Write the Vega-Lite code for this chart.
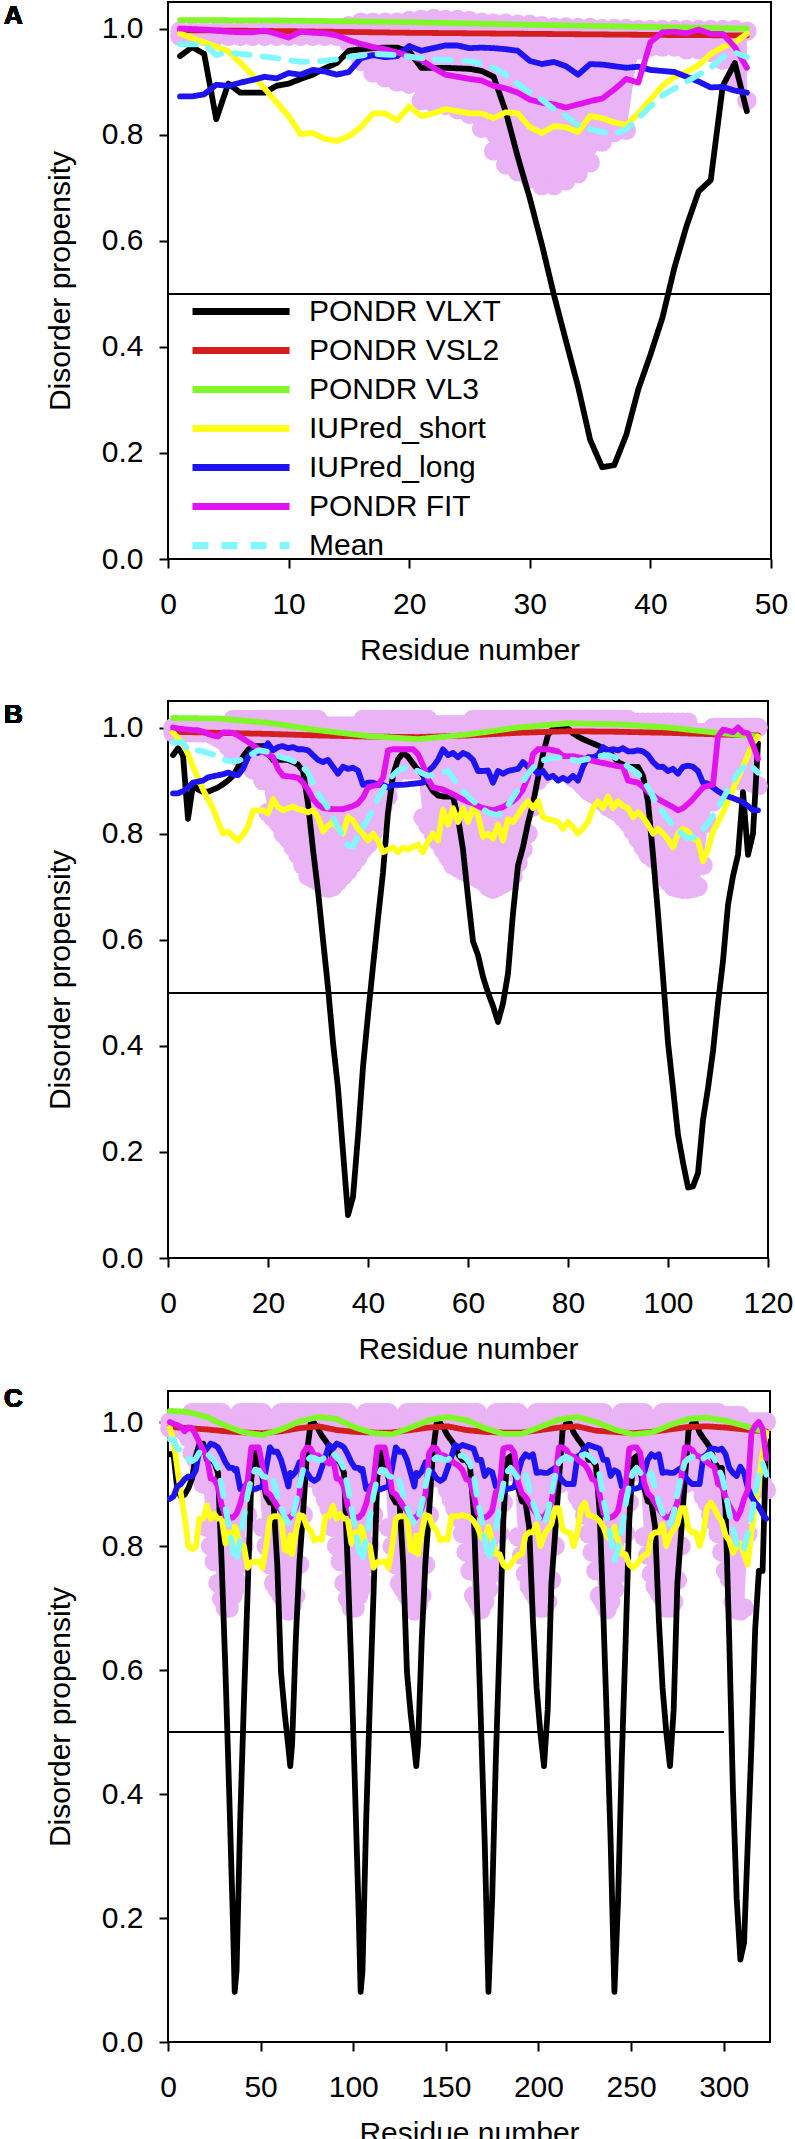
{
"$schema":"https://vega.github.io/schema/vega-lite/v6.json",
"padding":{"left":2,"top":1,"right":0,"bottom":0},
"background":"white",
"config":{
"view":{"stroke":"black","strokeWidth":2},
"axis":{"labelFont":"Liberation Sans","titleFont":"Liberation Sans","labelFontSize":30,"titleFontSize":30,"titleFontWeight":"normal","labelColor":"black","titleColor":"black","tickColor":"black","tickWidth":2,"tickSize":9,"domain":false,"grid":false,"labelFlush":false},
"axisX":{"labelPadding":21,"titlePadding":16},
"axisY":{"labelPadding":16,"titlePadding":26},
"legend":{"orient":"none","legendX":21,"legendY":291,"title":null,"labelFontSize":30,"labelFont":"Liberation Sans","labelColor":"black","labelLimit":0,"symbolType":"M-1,0H5.47","symbolSize":900,"symbolStrokeWidth":7,"labelOffset":83,"rowPadding":5,"padding":0}
},
"datasets":{
"A":[
{"res":1,"VLXT":0.948,"VSL2":0.997,"VL3":1.016,"short":0.991,"long":0.872,"FIT":1,"Mean":0.97,"lo":0.985,"hi":0.995},
{"res":2,"VLXT":0.965,"short":0.982,"long":0.872,"FIT":0.999,"Mean":0.97,"lo":0.985,"hi":0.995},
{"res":3,"VLXT":0.952,"short":0.974,"long":0.876,"FIT":0.998,"Mean":0.97,"lo":0.985,"hi":0.995},
{"res":4,"VLXT":0.829,"short":0.966,"long":0.894,"FIT":0.996,"Mean":0.95,"lo":0.985,"hi":0.995},
{"res":5,"VLXT":0.896,"short":0.957,"long":0.892,"FIT":0.994,"Mean":0.955,"lo":0.985,"hi":0.995},
{"res":6,"VLXT":0.879,"short":0.935,"long":0.898,"FIT":0.993,"Mean":0.952,"lo":0.985,"hi":0.995},
{"res":7,"VLXT":0.879,"short":0.913,"long":0.903,"FIT":0.993,"Mean":0.95,"lo":0.985,"hi":0.995},
{"res":8,"VLXT":0.879,"short":0.887,"long":0.909,"FIT":0.996,"Mean":0.947,"lo":0.985,"hi":0.995},
{"res":9,"VLXT":0.892,"short":0.861,"long":0.906,"FIT":0.99,"Mean":0.944,"lo":0.985,"hi":0.995},
{"res":10,"VLXT":0.896,"VSL2":0.995,"VL3":1.015,"short":0.835,"long":0.916,"FIT":0.983,"Mean":0.94,"lo":0.985,"hi":0.995},
{"res":11,"VLXT":0.905,"short":0.801,"long":0.913,"FIT":0.994,"Mean":0.937,"lo":0.985,"hi":0.995},
{"res":12,"VLXT":0.913,"short":0.803,"long":0.922,"FIT":0.992,"Mean":0.938,"lo":0.985,"hi":0.995},
{"res":13,"VLXT":0.925,"short":0.792,"long":0.919,"FIT":0.991,"Mean":0.939,"lo":0.985,"hi":0.995},
{"res":14,"VLXT":0.935,"short":0.788,"long":0.913,"FIT":0.987,"Mean":0.942,"lo":0.985,"hi":0.995},
{"res":15,"VLXT":0.958,"short":0.797,"long":0.918,"FIT":0.978,"Mean":0.946,"lo":0.972,"hi":1.005},
{"res":16,"VLXT":0.961,"short":0.814,"long":0.944,"FIT":0.971,"Mean":0.949,"lo":0.938,"hi":1.012},
{"res":17,"VLXT":0.963,"short":0.84,"long":0.95,"FIT":0.965,"Mean":0.952,"lo":0.916,"hi":1.012},
{"res":18,"VLXT":0.964,"short":0.84,"long":0.946,"FIT":0.961,"Mean":0.951,"lo":0.907,"hi":1.012},
{"res":19,"VLXT":0.964,"short":0.827,"long":0.948,"FIT":0.955,"Mean":0.95,"lo":0.899,"hi":1.012},
{"res":20,"VLXT":0.957,"VSL2":0.992,"VL3":1.012,"short":0.853,"long":0.967,"FIT":0.948,"Mean":0.947,"lo":0.895,"hi":1.015},
{"res":21,"VLXT":0.926,"short":0.835,"long":0.958,"FIT":0.941,"Mean":0.944,"lo":0.864,"hi":1.017},
{"res":22,"VLXT":0.926,"short":0.84,"long":0.963,"FIT":0.926,"Mean":0.942,"lo":0.86,"hi":1.019},
{"res":23,"VLXT":0.926,"short":0.848,"long":0.968,"FIT":0.913,"Mean":0.941,"lo":0.855,"hi":1.017},
{"res":24,"VLXT":0.925,"short":0.844,"long":0.968,"FIT":0.909,"Mean":0.94,"lo":0.847,"hi":1.017},
{"res":25,"VLXT":0.924,"short":0.84,"long":0.963,"FIT":0.905,"Mean":0.939,"lo":0.838,"hi":1.015},
{"res":26,"VLXT":0.92,"short":0.84,"long":0.964,"FIT":0.902,"Mean":0.933,"lo":0.812,"hi":1.012},
{"res":27,"VLXT":0.909,"short":0.831,"long":0.963,"FIT":0.892,"Mean":0.926,"lo":0.769,"hi":1.01},
{"res":28,"VLXT":0.844,"short":0.842,"long":0.961,"FIT":0.887,"Mean":0.913,"lo":0.743,"hi":1.01},
{"res":29,"VLXT":0.758,"short":0.84,"long":0.958,"FIT":0.879,"Mean":0.896,"lo":0.73,"hi":1.008},
{"res":30,"VLXT":0.68,"VSL2":0.99,"VL3":1.007,"short":0.814,"long":0.939,"FIT":0.866,"Mean":0.879,"lo":0.717,"hi":1.008},
{"res":31,"VLXT":0.593,"short":0.803,"long":0.933,"FIT":0.86,"Mean":0.866,"lo":0.704,"hi":1.005},
{"res":32,"VLXT":0.498,"short":0.816,"long":0.937,"FIT":0.857,"Mean":0.848,"lo":0.704,"hi":1.003},
{"res":33,"VLXT":0.411,"short":0.814,"long":0.929,"FIT":0.851,"Mean":0.835,"lo":0.713,"hi":1.003},
{"res":34,"VLXT":0.325,"short":0.805,"long":0.913,"FIT":0.857,"Mean":0.818,"lo":0.726,"hi":1.002},
{"res":35,"VLXT":0.225,"short":0.835,"long":0.933,"FIT":0.863,"Mean":0.81,"lo":0.747,"hi":1.002},
{"res":36,"VLXT":0.173,"short":0.831,"long":0.932,"FIT":0.868,"Mean":0.805,"lo":0.786,"hi":1},
{"res":37,"VLXT":0.177,"short":0.823,"long":0.929,"FIT":0.885,"Mean":0.801,"lo":0.804,"hi":1},
{"res":38,"VLXT":0.234,"short":0.818,"long":0.926,"FIT":0.905,"Mean":0.81,"lo":0.808,"hi":1},
{"res":39,"VLXT":0.32,"short":0.84,"long":0.928,"FIT":0.898,"Mean":0.831,"lo":0.96,"hi":0.998},
{"res":40,"VLXT":0.385,"VSL2":0.988,"VL3":1.003,"short":0.866,"long":0.922,"FIT":0.974,"Mean":0.853,"lo":0.965,"hi":0.998},
{"res":41,"VLXT":0.455,"short":0.892,"long":0.92,"FIT":0.993,"Mean":0.874,"lo":0.965,"hi":0.998},
{"res":42,"VLXT":0.55,"short":0.909,"long":0.918,"FIT":0.994,"Mean":0.887,"lo":0.965,"hi":0.998},
{"res":43,"VLXT":0.628,"short":0.918,"long":0.909,"FIT":0.991,"Mean":0.9,"lo":0.96,"hi":0.998},
{"res":44,"VLXT":0.693,"short":0.931,"long":0.9,"FIT":0.998,"Mean":0.913,"lo":0.96,"hi":0.998},
{"res":45,"VLXT":0.714,"short":0.952,"long":0.889,"FIT":0.99,"Mean":0.926,"lo":0.955,"hi":0.998},
{"res":46,"VLXT":0.892,"short":0.965,"long":0.89,"FIT":0.99,"Mean":0.946,"lo":0.94,"hi":0.998},
{"res":47,"VLXT":0.935,"short":0.974,"long":0.883,"FIT":0.965,"Mean":0.955,"lo":0.9,"hi":0.998},
{"res":48,"VLXT":0.844,"VSL2":0.987,"VL3":1,"short":0.99,"long":0.879,"FIT":0.926,"Mean":0.946,"lo":0.864,"hi":0.995}
],
"B":[
{"res":1,"VLXT":0.948,"VSL2":0.992,"VL3":1.018,"short":0.991,"long":0.876,"FIT":1,"Mean":0.972,"lo":0.99,"hi":1},
{"res":2,"VLXT":0.961,"short":0.98,"long":0.876,"FIT":0.998,"Mean":0.972,"lo":0.99,"hi":1},
{"res":3,"VLXT":0.948,"short":0.97,"long":0.88,"FIT":0.997,"Mean":0.972,"lo":0.99,"hi":1},
{"res":4,"VLXT":0.828,"short":0.95,"long":0.887,"FIT":0.996,"Mean":0.957,"lo":0.99,"hi":1},
{"res":5,"VLXT":0.892,"short":0.926,"long":0.896,"FIT":0.995,"Mean":0.957,"lo":0.99,"hi":1},
{"res":6,"VLXT":0.883,"short":0.905,"long":0.898,"FIT":0.995,"Mean":0.957,"lo":0.99,"hi":1},
{"res":7,"VLXT":0.879,"short":0.883,"long":0.9,"FIT":0.992,"Mean":0.955,"lo":0.99,"hi":1},
{"res":8,"VLXT":0.879,"short":0.865,"long":0.906,"FIT":0.988,"Mean":0.952,"lo":0.99,"hi":1},
{"res":9,"VLXT":0.883,"short":0.847,"long":0.908,"FIT":0.985,"Mean":0.949,"lo":0.985,"hi":1},
{"res":10,"VLXT":0.887,"VSL2":0.99,"VL3":1.017,"short":0.823,"long":0.91,"FIT":0.983,"Mean":0.946,"lo":0.98,"hi":1},
{"res":11,"VLXT":0.893,"short":0.8,"long":0.912,"FIT":0.991,"Mean":0.941,"lo":0.975,"hi":1},
{"res":12,"VLXT":0.9,"short":0.804,"long":0.915,"FIT":0.991,"Mean":0.937,"lo":0.965,"hi":1},
{"res":13,"VLXT":0.909,"short":0.795,"long":0.912,"FIT":0.99,"Mean":0.937,"lo":0.95,"hi":1.015},
{"res":14,"VLXT":0.925,"short":0.787,"long":0.91,"FIT":0.985,"Mean":0.937,"lo":0.945,"hi":1.015},
{"res":15,"VLXT":0.945,"short":0.798,"long":0.922,"FIT":0.979,"Mean":0.941,"lo":0.94,"hi":1.015},
{"res":16,"VLXT":0.958,"short":0.813,"long":0.944,"FIT":0.973,"Mean":0.946,"lo":0.93,"hi":1.015},
{"res":17,"VLXT":0.965,"short":0.844,"long":0.957,"FIT":0.967,"Mean":0.951,"lo":0.92,"hi":1.015},
{"res":18,"VLXT":0.965,"short":0.844,"long":0.952,"FIT":0.96,"Mean":0.957,"lo":0.92,"hi":1.015},
{"res":19,"VLXT":0.965,"short":0.844,"long":0.959,"FIT":0.954,"Mean":0.956,"lo":0.9,"hi":1.015},
{"res":20,"VLXT":0.95,"VSL2":0.988,"VL3":1.009,"short":0.838,"long":0.97,"FIT":0.949,"Mean":0.954,"lo":0.84,"hi":1.015},
{"res":21,"VLXT":0.939,"short":0.865,"long":0.957,"FIT":0.944,"Mean":0.95,"lo":0.83,"hi":1.015},
{"res":22,"VLXT":0.939,"short":0.85,"long":0.963,"FIT":0.922,"Mean":0.946,"lo":0.82,"hi":1.015},
{"res":23,"VLXT":0.939,"short":0.844,"long":0.965,"FIT":0.909,"Mean":0.943,"lo":0.8,"hi":1.015},
{"res":24,"VLXT":0.939,"short":0.848,"long":0.961,"FIT":0.908,"Mean":0.941,"lo":0.79,"hi":1.015},
{"res":25,"VLXT":0.935,"short":0.851,"long":0.963,"FIT":0.907,"Mean":0.937,"lo":0.775,"hi":1.015},
{"res":26,"VLXT":0.93,"short":0.846,"long":0.959,"FIT":0.905,"Mean":0.933,"lo":0.76,"hi":1.015},
{"res":27,"VLXT":0.918,"short":0.844,"long":0.959,"FIT":0.896,"Mean":0.925,"lo":0.74,"hi":1.015},
{"res":28,"VLXT":0.857,"short":0.84,"long":0.957,"FIT":0.883,"Mean":0.915,"lo":0.72,"hi":1.015},
{"res":29,"VLXT":0.77,"short":0.844,"long":0.948,"FIT":0.865,"Mean":0.895,"lo":0.715,"hi":1.015},
{"res":30,"VLXT":0.692,"VSL2":0.985,"VL3":0.995,"short":0.831,"long":0.939,"FIT":0.854,"Mean":0.876,"lo":0.71,"hi":1.015},
{"res":31,"VLXT":0.6,"short":0.804,"long":0.935,"FIT":0.848,"Mean":0.862,"lo":0.7,"hi":1.003},
{"res":32,"VLXT":0.51,"short":0.815,"long":0.939,"FIT":0.847,"Mean":0.848,"lo":0.697,"hi":1.003},
{"res":33,"VLXT":0.406,"short":0.822,"long":0.926,"FIT":0.846,"Mean":0.83,"lo":0.7,"hi":1.003},
{"res":34,"VLXT":0.32,"short":0.81,"long":0.913,"FIT":0.846,"Mean":0.812,"lo":0.71,"hi":1.003},
{"res":35,"VLXT":0.2,"short":0.8,"long":0.926,"FIT":0.846,"Mean":0.795,"lo":0.72,"hi":1.003},
{"res":36,"VLXT":0.081,"short":0.831,"long":0.922,"FIT":0.849,"Mean":0.777,"lo":0.73,"hi":1.003},
{"res":37,"VLXT":0.115,"short":0.825,"long":0.924,"FIT":0.852,"Mean":0.776,"lo":0.743,"hi":1.003},
{"res":38,"VLXT":0.23,"short":0.809,"long":0.919,"FIT":0.857,"Mean":0.796,"lo":0.755,"hi":1.003},
{"res":39,"VLXT":0.36,"short":0.8,"long":0.892,"FIT":0.868,"Mean":0.812,"lo":0.77,"hi":1.015},
{"res":40,"VLXT":0.458,"VSL2":0.983,"VL3":0.984,"short":0.787,"long":0.896,"FIT":0.887,"Mean":0.827,"lo":0.78,"hi":1.015},
{"res":41,"VLXT":0.55,"short":0.8,"long":0.896,"FIT":0.89,"Mean":0.847,"lo":0.8,"hi":1.015},
{"res":42,"VLXT":0.64,"short":0.787,"long":0.892,"FIT":0.892,"Mean":0.866,"lo":0.82,"hi":1.015},
{"res":43,"VLXT":0.727,"short":0.765,"long":0.892,"FIT":0.905,"Mean":0.883,"lo":0.85,"hi":1.015},
{"res":44,"VLXT":0.84,"short":0.77,"long":0.887,"FIT":0.957,"Mean":0.9,"lo":0.87,"hi":1.015},
{"res":45,"VLXT":0.91,"short":0.774,"long":0.892,"FIT":0.959,"Mean":0.91,"lo":0.9,"hi":1.015},
{"res":46,"VLXT":0.94,"short":0.765,"long":0.892,"FIT":0.959,"Mean":0.919,"lo":0.92,"hi":1.015},
{"res":47,"VLXT":0.952,"short":0.774,"long":0.892,"FIT":0.959,"Mean":0.923,"lo":0.92,"hi":1.015},
{"res":48,"VLXT":0.945,"short":0.77,"long":0.893,"FIT":0.959,"Mean":0.926,"lo":0.92,"hi":1.015},
{"res":49,"VLXT":0.932,"short":0.775,"long":0.894,"FIT":0.959,"Mean":0.922,"lo":0.92,"hi":1.015},
{"res":50,"VLXT":0.92,"VSL2":0.982,"VL3":0.978,"short":0.779,"long":0.895,"FIT":0.95,"Mean":0.918,"lo":0.92,"hi":1.015},
{"res":51,"VLXT":0.91,"short":0.765,"long":0.896,"FIT":0.929,"Mean":0.913,"lo":0.83,"hi":1.015},
{"res":52,"VLXT":0.895,"short":0.785,"long":0.918,"FIT":0.903,"Mean":0.909,"lo":0.815,"hi":1.015},
{"res":53,"VLXT":0.88,"short":0.8,"long":0.926,"FIT":0.887,"Mean":0.911,"lo":0.8,"hi":1.005},
{"res":54,"VLXT":0.872,"short":0.787,"long":0.939,"FIT":0.885,"Mean":0.913,"lo":0.785,"hi":1.005},
{"res":55,"VLXT":0.87,"short":0.844,"long":0.959,"FIT":0.883,"Mean":0.916,"lo":0.77,"hi":1.005},
{"res":56,"VLXT":0.87,"short":0.817,"long":0.948,"FIT":0.879,"Mean":0.918,"lo":0.755,"hi":1.005},
{"res":57,"VLXT":0.87,"short":0.848,"long":0.952,"FIT":0.874,"Mean":0.905,"lo":0.74,"hi":1.005},
{"res":58,"VLXT":0.83,"short":0.822,"long":0.944,"FIT":0.869,"Mean":0.892,"lo":0.735,"hi":1.005},
{"res":59,"VLXT":0.77,"short":0.848,"long":0.952,"FIT":0.864,"Mean":0.881,"lo":0.73,"hi":1.005},
{"res":60,"VLXT":0.68,"VSL2":0.985,"VL3":0.987,"short":0.822,"long":0.948,"FIT":0.86,"Mean":0.87,"lo":0.725,"hi":1.005},
{"res":61,"VLXT":0.597,"short":0.848,"long":0.939,"FIT":0.857,"Mean":0.862,"lo":0.72,"hi":1.015},
{"res":62,"VLXT":0.571,"short":0.835,"long":0.918,"FIT":0.852,"Mean":0.853,"lo":0.715,"hi":1.015},
{"res":63,"VLXT":0.53,"short":0.794,"long":0.918,"FIT":0.848,"Mean":0.847,"lo":0.71,"hi":1.015},
{"res":64,"VLXT":0.5,"short":0.8,"long":0.919,"FIT":0.846,"Mean":0.84,"lo":0.7,"hi":1.015},
{"res":65,"VLXT":0.475,"short":0.791,"long":0.896,"FIT":0.844,"Mean":0.837,"lo":0.695,"hi":1.015},
{"res":66,"VLXT":0.445,"short":0.817,"long":0.918,"FIT":0.847,"Mean":0.835,"lo":0.7,"hi":1.015},
{"res":67,"VLXT":0.48,"short":0.787,"long":0.913,"FIT":0.85,"Mean":0.844,"lo":0.705,"hi":1.015},
{"res":68,"VLXT":0.536,"short":0.827,"long":0.918,"FIT":0.856,"Mean":0.853,"lo":0.71,"hi":1.015},
{"res":69,"VLXT":0.65,"short":0.822,"long":0.92,"FIT":0.861,"Mean":0.868,"lo":0.72,"hi":1.015},
{"res":70,"VLXT":0.74,"VSL2":0.99,"VL3":1,"short":0.835,"long":0.922,"FIT":0.87,"Mean":0.883,"lo":0.745,"hi":1.015},
{"res":71,"VLXT":0.775,"short":0.85,"long":0.935,"FIT":0.883,"Mean":0.898,"lo":0.77,"hi":1.015},
{"res":72,"VLXT":0.82,"short":0.861,"long":0.926,"FIT":0.906,"Mean":0.913,"lo":0.8,"hi":1.015},
{"res":73,"VLXT":0.857,"short":0.848,"long":0.922,"FIT":0.95,"Mean":0.924,"lo":0.85,"hi":1.015},
{"res":74,"VLXT":0.905,"short":0.861,"long":0.913,"FIT":0.959,"Mean":0.935,"lo":0.9,"hi":1.015},
{"res":75,"VLXT":0.95,"short":0.831,"long":0.918,"FIT":0.959,"Mean":0.938,"lo":0.91,"hi":1.015},
{"res":76,"VLXT":0.986,"short":0.827,"long":0.905,"FIT":0.959,"Mean":0.941,"lo":0.92,"hi":1.015},
{"res":77,"VLXT":0.998,"short":0.825,"long":0.909,"FIT":0.957,"Mean":0.943,"lo":0.92,"hi":1.015},
{"res":78,"VLXT":0.998,"short":0.822,"long":0.9,"FIT":0.955,"Mean":0.944,"lo":0.92,"hi":1.015},
{"res":79,"VLXT":0.998,"short":0.809,"long":0.905,"FIT":0.946,"Mean":0.942,"lo":0.92,"hi":1.015},
{"res":80,"VLXT":0.998,"VSL2":0.993,"VL3":1.008,"short":0.822,"long":0.9,"FIT":0.946,"Mean":0.941,"lo":0.915,"hi":1.015},
{"res":81,"VLXT":0.989,"short":0.812,"long":0.909,"FIT":0.946,"Mean":0.939,"lo":0.905,"hi":1.015},
{"res":82,"VLXT":0.983,"short":0.8,"long":0.9,"FIT":0.944,"Mean":0.937,"lo":0.9,"hi":1.015},
{"res":83,"VLXT":0.978,"short":0.81,"long":0.926,"FIT":0.942,"Mean":0.939,"lo":0.89,"hi":1.015},
{"res":84,"VLXT":0.974,"short":0.822,"long":0.944,"FIT":0.94,"Mean":0.941,"lo":0.88,"hi":1.015},
{"res":85,"VLXT":0.97,"short":0.848,"long":0.944,"FIT":0.937,"Mean":0.944,"lo":0.875,"hi":1.015},
{"res":86,"VLXT":0.966,"short":0.861,"long":0.948,"FIT":0.935,"Mean":0.946,"lo":0.87,"hi":1.015},
{"res":87,"VLXT":0.961,"short":0.848,"long":0.963,"FIT":0.933,"Mean":0.947,"lo":0.86,"hi":1.015},
{"res":88,"VLXT":0.957,"short":0.87,"long":0.957,"FIT":0.931,"Mean":0.948,"lo":0.85,"hi":1.015},
{"res":89,"VLXT":0.946,"short":0.848,"long":0.959,"FIT":0.929,"Mean":0.945,"lo":0.845,"hi":1.015},
{"res":90,"VLXT":0.935,"VSL2":0.992,"VL3":1.006,"short":0.861,"long":0.957,"FIT":0.927,"Mean":0.941,"lo":0.84,"hi":1.015},
{"res":91,"VLXT":0.93,"short":0.852,"long":0.961,"FIT":0.926,"Mean":0.934,"lo":0.83,"hi":1.015},
{"res":92,"VLXT":0.926,"short":0.848,"long":0.955,"FIT":0.9,"Mean":0.926,"lo":0.82,"hi":1.015},
{"res":93,"VLXT":0.926,"short":0.831,"long":0.955,"FIT":0.898,"Mean":0.92,"lo":0.805,"hi":1.01},
{"res":94,"VLXT":0.926,"short":0.84,"long":0.957,"FIT":0.896,"Mean":0.913,"lo":0.79,"hi":1.01},
{"res":95,"VLXT":0.909,"short":0.831,"long":0.955,"FIT":0.888,"Mean":0.9,"lo":0.775,"hi":1.01},
{"res":96,"VLXT":0.86,"short":0.817,"long":0.948,"FIT":0.879,"Mean":0.887,"lo":0.76,"hi":1.01},
{"res":97,"VLXT":0.76,"short":0.8,"long":0.935,"FIT":0.872,"Mean":0.87,"lo":0.753,"hi":1.01},
{"res":98,"VLXT":0.649,"short":0.809,"long":0.926,"FIT":0.865,"Mean":0.853,"lo":0.747,"hi":1.01},
{"res":99,"VLXT":0.53,"short":0.8,"long":0.926,"FIT":0.86,"Mean":0.84,"lo":0.73,"hi":1.01},
{"res":100,"VLXT":0.406,"VSL2":0.99,"VL3":1,"short":0.789,"long":0.918,"FIT":0.855,"Mean":0.827,"lo":0.71,"hi":1.01},
{"res":101,"VLXT":0.32,"short":0.774,"long":0.922,"FIT":0.85,"Mean":0.816,"lo":0.7,"hi":1.01},
{"res":102,"VLXT":0.232,"short":0.8,"long":0.913,"FIT":0.844,"Mean":0.805,"lo":0.697,"hi":1.01},
{"res":103,"VLXT":0.18,"short":0.809,"long":0.926,"FIT":0.848,"Mean":0.798,"lo":0.695,"hi":1.01},
{"res":104,"VLXT":0.133,"short":0.804,"long":0.928,"FIT":0.856,"Mean":0.791,"lo":0.695,"hi":1.01},
{"res":105,"VLXT":0.135,"short":0.791,"long":0.926,"FIT":0.865,"Mean":0.793,"lo":0.697,"hi":0.99},
{"res":106,"VLXT":0.16,"short":0.787,"long":0.918,"FIT":0.876,"Mean":0.796,"lo":0.7,"hi":0.99},
{"res":107,"VLXT":0.26,"short":0.748,"long":0.896,"FIT":0.887,"Mean":0.808,"lo":0.74,"hi":0.99},
{"res":108,"VLXT":0.32,"short":0.77,"long":0.894,"FIT":0.89,"Mean":0.82,"lo":0.82,"hi":0.99},
{"res":109,"VLXT":0.39,"short":0.804,"long":0.887,"FIT":0.892,"Mean":0.834,"lo":0.86,"hi":1},
{"res":110,"VLXT":0.48,"VSL2":0.987,"VL3":0.99,"short":0.822,"long":0.88,"FIT":0.983,"Mean":0.848,"lo":0.885,"hi":1},
{"res":111,"VLXT":0.56,"short":0.84,"long":0.874,"FIT":0.996,"Mean":0.866,"lo":0.895,"hi":1},
{"res":112,"VLXT":0.666,"short":0.862,"long":0.87,"FIT":0.994,"Mean":0.883,"lo":0.9,"hi":1},
{"res":113,"VLXT":0.72,"short":0.883,"long":0.867,"FIT":0.991,"Mean":0.899,"lo":0.9,"hi":1},
{"res":114,"VLXT":0.76,"short":0.905,"long":0.863,"FIT":1,"Mean":0.915,"lo":0.9,"hi":1},
{"res":115,"VLXT":0.878,"short":0.926,"long":0.859,"FIT":0.991,"Mean":0.924,"lo":0.9,"hi":1},
{"res":116,"VLXT":0.76,"short":0.948,"long":0.852,"FIT":0.989,"Mean":0.933,"lo":0.9,"hi":1},
{"res":117,"VLXT":0.8,"short":0.97,"long":0.844,"FIT":0.967,"Mean":0.924,"lo":0.895,"hi":1},
{"res":118,"VLXT":0.97,"VSL2":0.985,"VL3":0.983,"short":0.983,"long":0.844,"FIT":0.941,"Mean":0.915,"lo":0.89,"hi":1}
],
"C":[
{"res":1,"VLXT":0.948,"VSL2":0.992,"VL3":1.018,"short":0.991,"long":0.876,"FIT":1,"Mean":0.972,"lo":0.99,"hi":1},
{"res":3,"VLXT":0.948,"short":0.97,"long":0.88,"FIT":0.997,"Mean":0.972,"lo":0.99,"hi":1},
{"res":5,"VLXT":0.892,"short":0.926,"long":0.896,"FIT":0.995,"Mean":0.957,"lo":0.99,"hi":1},
{"res":7,"VLXT":0.879,"short":0.883,"long":0.9,"FIT":0.992,"Mean":0.955,"lo":0.99,"hi":1},
{"res":9,"VLXT":0.883,"short":0.847,"long":0.908,"FIT":0.985,"Mean":0.949,"lo":0.985,"hi":1},
{"res":11,"VLXT":0.893,"VSL2":0.99,"VL3":1.016,"short":0.8,"long":0.912,"FIT":0.991,"Mean":0.941,"lo":0.975,"hi":1},
{"res":13,"VLXT":0.909,"short":0.795,"long":0.912,"FIT":0.99,"Mean":0.937,"lo":0.95,"hi":1.015},
{"res":15,"VLXT":0.945,"short":0.798,"long":0.922,"FIT":0.979,"Mean":0.941,"lo":0.94,"hi":1.015},
{"res":17,"VLXT":0.965,"short":0.844,"long":0.957,"FIT":0.967,"Mean":0.951,"lo":0.92,"hi":1.015},
{"res":19,"VLXT":0.965,"short":0.844,"long":0.959,"FIT":0.954,"Mean":0.956,"lo":0.9,"hi":1.015},
{"res":21,"VLXT":0.939,"VSL2":0.988,"VL3":1.008,"short":0.865,"long":0.957,"FIT":0.944,"Mean":0.95,"lo":0.83,"hi":1.015},
{"res":23,"VLXT":0.939,"short":0.844,"long":0.965,"FIT":0.909,"Mean":0.943,"lo":0.8,"hi":1.015},
{"res":25,"VLXT":0.935,"short":0.851,"long":0.963,"FIT":0.907,"Mean":0.937,"lo":0.775,"hi":1.015},
{"res":27,"VLXT":0.918,"short":0.844,"long":0.959,"FIT":0.896,"Mean":0.925,"lo":0.74,"hi":1.015},
{"res":29,"VLXT":0.77,"short":0.844,"long":0.948,"FIT":0.865,"Mean":0.895,"lo":0.715,"hi":1.015},
{"res":31,"VLXT":0.6,"VSL2":0.985,"VL3":0.994,"short":0.804,"long":0.935,"FIT":0.848,"Mean":0.862,"lo":0.7,"hi":1.003},
{"res":33,"VLXT":0.406,"short":0.822,"long":0.926,"FIT":0.846,"Mean":0.83,"lo":0.7,"hi":1.003},
{"res":35,"VLXT":0.2,"short":0.8,"long":0.926,"FIT":0.846,"Mean":0.795,"lo":0.72,"hi":1.003},
{"res":36,"VLXT":0.081,"short":0.831,"long":0.922,"FIT":0.849,"Mean":0.777,"lo":0.73,"hi":1.003},
{"res":37,"VLXT":0.115,"short":0.825,"long":0.924,"FIT":0.852,"Mean":0.776,"lo":0.743,"hi":1.003},
{"res":39,"VLXT":0.36,"short":0.8,"long":0.892,"FIT":0.868,"Mean":0.812,"lo":0.77,"hi":1.015},
{"res":41,"VLXT":0.55,"VSL2":0.983,"VL3":0.983,"short":0.8,"long":0.896,"FIT":0.89,"Mean":0.847,"lo":0.8,"hi":1.015},
{"res":43,"VLXT":0.727,"short":0.765,"long":0.892,"FIT":0.905,"Mean":0.883,"lo":0.85,"hi":1.015},
{"res":45,"VLXT":0.91,"short":0.774,"long":0.892,"FIT":0.959,"Mean":0.91,"lo":0.9,"hi":1.015},
{"res":47,"VLXT":0.952,"short":0.774,"long":0.892,"FIT":0.959,"Mean":0.923,"lo":0.92,"hi":1.015},
{"res":49,"VLXT":0.932,"short":0.775,"long":0.894,"FIT":0.959,"Mean":0.922,"lo":0.92,"hi":1.015},
{"res":51,"VLXT":0.91,"VSL2":0.982,"VL3":0.979,"short":0.765,"long":0.896,"FIT":0.929,"Mean":0.913,"lo":0.83,"hi":1.015},
{"res":53,"VLXT":0.88,"short":0.8,"long":0.926,"FIT":0.887,"Mean":0.911,"lo":0.8,"hi":1.005},
{"res":55,"VLXT":0.87,"short":0.844,"long":0.959,"FIT":0.883,"Mean":0.916,"lo":0.77,"hi":1.005},
{"res":57,"VLXT":0.87,"short":0.848,"long":0.952,"FIT":0.874,"Mean":0.905,"lo":0.74,"hi":1.005},
{"res":59,"VLXT":0.77,"short":0.848,"long":0.952,"FIT":0.864,"Mean":0.881,"lo":0.73,"hi":1.005},
{"res":61,"VLXT":0.597,"VSL2":0.985,"VL3":0.988,"short":0.848,"long":0.939,"FIT":0.857,"Mean":0.862,"lo":0.72,"hi":1.015},
{"res":63,"VLXT":0.53,"short":0.794,"long":0.918,"FIT":0.848,"Mean":0.847,"lo":0.71,"hi":1.015},
{"res":65,"VLXT":0.475,"short":0.791,"long":0.896,"FIT":0.844,"Mean":0.837,"lo":0.695,"hi":1.015},
{"res":66,"VLXT":0.445,"short":0.817,"long":0.918,"FIT":0.847,"Mean":0.835,"lo":0.7,"hi":1.015},
{"res":67,"VLXT":0.48,"short":0.787,"long":0.913,"FIT":0.85,"Mean":0.844,"lo":0.705,"hi":1.015},
{"res":69,"VLXT":0.65,"short":0.822,"long":0.92,"FIT":0.861,"Mean":0.868,"lo":0.72,"hi":1.015},
{"res":71,"VLXT":0.775,"VSL2":0.99,"VL3":1.001,"short":0.85,"long":0.935,"FIT":0.883,"Mean":0.898,"lo":0.77,"hi":1.015},
{"res":73,"VLXT":0.857,"short":0.848,"long":0.922,"FIT":0.95,"Mean":0.924,"lo":0.85,"hi":1.015},
{"res":75,"VLXT":0.95,"short":0.831,"long":0.918,"FIT":0.959,"Mean":0.938,"lo":0.91,"hi":1.015},
{"res":77,"VLXT":0.998,"short":0.825,"long":0.909,"FIT":0.957,"Mean":0.943,"lo":0.92,"hi":1.015},
{"res":79,"VLXT":0.998,"short":0.809,"long":0.905,"FIT":0.946,"Mean":0.942,"lo":0.92,"hi":1.015},
{"res":81,"VLXT":0.989,"VSL2":0.993,"VL3":1.008,"short":0.812,"long":0.909,"FIT":0.946,"Mean":0.939,"lo":0.905,"hi":1.015},
{"res":83,"VLXT":0.978,"short":0.81,"long":0.926,"FIT":0.942,"Mean":0.939,"lo":0.89,"hi":1.015},
{"res":85,"VLXT":0.97,"short":0.848,"long":0.944,"FIT":0.937,"Mean":0.944,"lo":0.875,"hi":1.015},
{"res":87,"VLXT":0.961,"short":0.848,"long":0.963,"FIT":0.933,"Mean":0.947,"lo":0.86,"hi":1.015},
{"res":89,"VLXT":0.939,"short":0.865,"long":0.957,"FIT":0.944,"Mean":0.95,"lo":0.83,"hi":1.015},
{"res":91,"VLXT":0.939,"VSL2":0.987,"VL3":1.005,"short":0.844,"long":0.965,"FIT":0.909,"Mean":0.943,"lo":0.8,"hi":1.015},
{"res":93,"VLXT":0.935,"short":0.851,"long":0.963,"FIT":0.907,"Mean":0.937,"lo":0.775,"hi":1.015},
{"res":95,"VLXT":0.918,"short":0.844,"long":0.959,"FIT":0.896,"Mean":0.925,"lo":0.74,"hi":1.015},
{"res":97,"VLXT":0.77,"short":0.844,"long":0.948,"FIT":0.865,"Mean":0.895,"lo":0.715,"hi":1.015},
{"res":99,"VLXT":0.6,"short":0.804,"long":0.935,"FIT":0.848,"Mean":0.862,"lo":0.7,"hi":1.003},
{"res":101,"VLXT":0.406,"VSL2":0.984,"VL3":0.991,"short":0.822,"long":0.926,"FIT":0.846,"Mean":0.83,"lo":0.7,"hi":1.003},
{"res":103,"VLXT":0.2,"short":0.8,"long":0.926,"FIT":0.846,"Mean":0.795,"lo":0.72,"hi":1.003},
{"res":104,"VLXT":0.081,"short":0.831,"long":0.922,"FIT":0.849,"Mean":0.777,"lo":0.73,"hi":1.003},
{"res":105,"VLXT":0.115,"short":0.825,"long":0.924,"FIT":0.852,"Mean":0.776,"lo":0.743,"hi":1.003},
{"res":107,"VLXT":0.36,"short":0.8,"long":0.892,"FIT":0.868,"Mean":0.812,"lo":0.77,"hi":1.015},
{"res":109,"VLXT":0.55,"short":0.8,"long":0.896,"FIT":0.89,"Mean":0.847,"lo":0.8,"hi":1.015},
{"res":111,"VLXT":0.727,"VSL2":0.983,"VL3":0.982,"short":0.765,"long":0.892,"FIT":0.905,"Mean":0.883,"lo":0.85,"hi":1.015},
{"res":113,"VLXT":0.91,"short":0.774,"long":0.892,"FIT":0.959,"Mean":0.91,"lo":0.9,"hi":1.015},
{"res":115,"VLXT":0.952,"short":0.774,"long":0.892,"FIT":0.959,"Mean":0.923,"lo":0.92,"hi":1.015},
{"res":117,"VLXT":0.932,"short":0.775,"long":0.894,"FIT":0.959,"Mean":0.922,"lo":0.92,"hi":1.015},
{"res":119,"VLXT":0.91,"short":0.765,"long":0.896,"FIT":0.929,"Mean":0.913,"lo":0.83,"hi":1.015},
{"res":121,"VLXT":0.88,"VSL2":0.983,"VL3":0.98,"short":0.8,"long":0.926,"FIT":0.887,"Mean":0.911,"lo":0.8,"hi":1.005},
{"res":123,"VLXT":0.87,"short":0.844,"long":0.959,"FIT":0.883,"Mean":0.916,"lo":0.77,"hi":1.005},
{"res":125,"VLXT":0.87,"short":0.848,"long":0.952,"FIT":0.874,"Mean":0.905,"lo":0.74,"hi":1.005},
{"res":127,"VLXT":0.77,"short":0.848,"long":0.952,"FIT":0.864,"Mean":0.881,"lo":0.73,"hi":1.005},
{"res":129,"VLXT":0.597,"short":0.848,"long":0.939,"FIT":0.857,"Mean":0.862,"lo":0.72,"hi":1.015},
{"res":131,"VLXT":0.53,"VSL2":0.987,"VL3":0.991,"short":0.794,"long":0.918,"FIT":0.848,"Mean":0.847,"lo":0.71,"hi":1.015},
{"res":133,"VLXT":0.475,"short":0.791,"long":0.896,"FIT":0.844,"Mean":0.837,"lo":0.695,"hi":1.015},
{"res":134,"VLXT":0.445,"short":0.817,"long":0.918,"FIT":0.847,"Mean":0.835,"lo":0.7,"hi":1.015},
{"res":135,"VLXT":0.48,"short":0.787,"long":0.913,"FIT":0.85,"Mean":0.844,"lo":0.705,"hi":1.015},
{"res":137,"VLXT":0.65,"short":0.822,"long":0.92,"FIT":0.861,"Mean":0.868,"lo":0.72,"hi":1.015},
{"res":139,"VLXT":0.775,"short":0.85,"long":0.935,"FIT":0.883,"Mean":0.898,"lo":0.77,"hi":1.015},
{"res":141,"VLXT":0.857,"VSL2":0.991,"VL3":1.003,"short":0.848,"long":0.922,"FIT":0.95,"Mean":0.924,"lo":0.85,"hi":1.015},
{"res":143,"VLXT":0.95,"short":0.831,"long":0.918,"FIT":0.959,"Mean":0.938,"lo":0.91,"hi":1.015},
{"res":145,"VLXT":0.998,"short":0.825,"long":0.909,"FIT":0.957,"Mean":0.943,"lo":0.92,"hi":1.015},
{"res":147,"VLXT":0.998,"short":0.809,"long":0.905,"FIT":0.946,"Mean":0.942,"lo":0.92,"hi":1.015},
{"res":149,"VLXT":0.989,"short":0.812,"long":0.909,"FIT":0.946,"Mean":0.939,"lo":0.905,"hi":1.015},
{"res":151,"VLXT":0.978,"VSL2":0.993,"VL3":1.008,"short":0.81,"long":0.926,"FIT":0.942,"Mean":0.939,"lo":0.89,"hi":1.015},
{"res":153,"VLXT":0.97,"short":0.848,"long":0.944,"FIT":0.937,"Mean":0.944,"lo":0.875,"hi":1.015},
{"res":155,"VLXT":0.961,"short":0.848,"long":0.963,"FIT":0.933,"Mean":0.947,"lo":0.86,"hi":1.015},
{"res":157,"VLXT":0.946,"short":0.848,"long":0.959,"FIT":0.929,"Mean":0.945,"lo":0.845,"hi":1.015},
{"res":159,"VLXT":0.939,"short":0.85,"long":0.963,"FIT":0.922,"Mean":0.946,"lo":0.82,"hi":1.015},
{"res":161,"VLXT":0.939,"VSL2":0.987,"VL3":1.003,"short":0.848,"long":0.961,"FIT":0.908,"Mean":0.941,"lo":0.79,"hi":1.015},
{"res":163,"VLXT":0.93,"short":0.846,"long":0.959,"FIT":0.905,"Mean":0.933,"lo":0.76,"hi":1.015},
{"res":165,"VLXT":0.857,"short":0.84,"long":0.957,"FIT":0.883,"Mean":0.915,"lo":0.72,"hi":1.015},
{"res":167,"VLXT":0.692,"short":0.831,"long":0.939,"FIT":0.854,"Mean":0.876,"lo":0.71,"hi":1.015},
{"res":169,"VLXT":0.51,"short":0.815,"long":0.939,"FIT":0.847,"Mean":0.848,"lo":0.697,"hi":1.003},
{"res":171,"VLXT":0.32,"VSL2":0.984,"VL3":0.99,"short":0.81,"long":0.913,"FIT":0.846,"Mean":0.812,"lo":0.71,"hi":1.003},
{"res":173,"VLXT":0.081,"short":0.831,"long":0.922,"FIT":0.849,"Mean":0.777,"lo":0.73,"hi":1.003},
{"res":175,"VLXT":0.23,"short":0.809,"long":0.919,"FIT":0.857,"Mean":0.796,"lo":0.755,"hi":1.003},
{"res":177,"VLXT":0.458,"short":0.787,"long":0.896,"FIT":0.887,"Mean":0.827,"lo":0.78,"hi":1.015},
{"res":179,"VLXT":0.64,"short":0.787,"long":0.892,"FIT":0.892,"Mean":0.866,"lo":0.82,"hi":1.015},
{"res":181,"VLXT":0.84,"VSL2":0.983,"VL3":0.981,"short":0.77,"long":0.887,"FIT":0.957,"Mean":0.9,"lo":0.87,"hi":1.015},
{"res":183,"VLXT":0.94,"short":0.765,"long":0.892,"FIT":0.959,"Mean":0.919,"lo":0.92,"hi":1.015},
{"res":185,"VLXT":0.945,"short":0.77,"long":0.893,"FIT":0.959,"Mean":0.926,"lo":0.92,"hi":1.015},
{"res":187,"VLXT":0.92,"short":0.779,"long":0.895,"FIT":0.95,"Mean":0.918,"lo":0.92,"hi":1.015},
{"res":189,"VLXT":0.895,"short":0.785,"long":0.918,"FIT":0.903,"Mean":0.909,"lo":0.815,"hi":1.015},
{"res":191,"VLXT":0.872,"VSL2":0.983,"VL3":0.981,"short":0.787,"long":0.939,"FIT":0.885,"Mean":0.913,"lo":0.785,"hi":1.005},
{"res":193,"VLXT":0.87,"short":0.817,"long":0.948,"FIT":0.879,"Mean":0.918,"lo":0.755,"hi":1.005},
{"res":195,"VLXT":0.83,"short":0.822,"long":0.944,"FIT":0.869,"Mean":0.892,"lo":0.735,"hi":1.005},
{"res":197,"VLXT":0.68,"short":0.822,"long":0.948,"FIT":0.86,"Mean":0.87,"lo":0.725,"hi":1.005},
{"res":199,"VLXT":0.571,"short":0.835,"long":0.918,"FIT":0.852,"Mean":0.853,"lo":0.715,"hi":1.015},
{"res":201,"VLXT":0.5,"VSL2":0.987,"VL3":0.992,"short":0.8,"long":0.919,"FIT":0.846,"Mean":0.84,"lo":0.7,"hi":1.015},
{"res":203,"VLXT":0.445,"short":0.817,"long":0.918,"FIT":0.847,"Mean":0.835,"lo":0.7,"hi":1.015},
{"res":205,"VLXT":0.536,"short":0.827,"long":0.918,"FIT":0.856,"Mean":0.853,"lo":0.71,"hi":1.015},
{"res":207,"VLXT":0.74,"short":0.835,"long":0.922,"FIT":0.87,"Mean":0.883,"lo":0.745,"hi":1.015},
{"res":209,"VLXT":0.82,"short":0.861,"long":0.926,"FIT":0.906,"Mean":0.913,"lo":0.8,"hi":1.015},
{"res":211,"VLXT":0.905,"VSL2":0.991,"VL3":1.004,"short":0.861,"long":0.913,"FIT":0.959,"Mean":0.935,"lo":0.9,"hi":1.015},
{"res":213,"VLXT":0.986,"short":0.827,"long":0.905,"FIT":0.959,"Mean":0.941,"lo":0.92,"hi":1.015},
{"res":215,"VLXT":0.998,"short":0.822,"long":0.9,"FIT":0.955,"Mean":0.944,"lo":0.92,"hi":1.015},
{"res":217,"VLXT":0.998,"short":0.822,"long":0.9,"FIT":0.946,"Mean":0.941,"lo":0.915,"hi":1.015},
{"res":219,"VLXT":0.983,"short":0.8,"long":0.9,"FIT":0.944,"Mean":0.937,"lo":0.9,"hi":1.015},
{"res":221,"VLXT":0.974,"VSL2":0.993,"VL3":1.008,"short":0.822,"long":0.944,"FIT":0.94,"Mean":0.941,"lo":0.88,"hi":1.015},
{"res":223,"VLXT":0.966,"short":0.861,"long":0.948,"FIT":0.935,"Mean":0.946,"lo":0.87,"hi":1.015},
{"res":225,"VLXT":0.957,"short":0.87,"long":0.957,"FIT":0.931,"Mean":0.948,"lo":0.85,"hi":1.015},
{"res":227,"VLXT":0.939,"short":0.85,"long":0.963,"FIT":0.922,"Mean":0.946,"lo":0.82,"hi":1.015},
{"res":229,"VLXT":0.939,"short":0.848,"long":0.961,"FIT":0.908,"Mean":0.941,"lo":0.79,"hi":1.015},
{"res":231,"VLXT":0.93,"VSL2":0.986,"VL3":1,"short":0.846,"long":0.959,"FIT":0.905,"Mean":0.933,"lo":0.76,"hi":1.015},
{"res":233,"VLXT":0.857,"short":0.84,"long":0.957,"FIT":0.883,"Mean":0.915,"lo":0.72,"hi":1.015},
{"res":235,"VLXT":0.692,"short":0.831,"long":0.939,"FIT":0.854,"Mean":0.876,"lo":0.71,"hi":1.015},
{"res":237,"VLXT":0.51,"short":0.815,"long":0.939,"FIT":0.847,"Mean":0.848,"lo":0.697,"hi":1.003},
{"res":239,"VLXT":0.32,"short":0.81,"long":0.913,"FIT":0.846,"Mean":0.812,"lo":0.71,"hi":1.003},
{"res":241,"VLXT":0.081,"VSL2":0.984,"VL3":0.988,"short":0.831,"long":0.922,"FIT":0.849,"Mean":0.777,"lo":0.73,"hi":1.003},
{"res":243,"VLXT":0.23,"short":0.809,"long":0.919,"FIT":0.857,"Mean":0.796,"lo":0.755,"hi":1.003},
{"res":245,"VLXT":0.458,"short":0.787,"long":0.896,"FIT":0.887,"Mean":0.827,"lo":0.78,"hi":1.015},
{"res":247,"VLXT":0.64,"short":0.787,"long":0.892,"FIT":0.892,"Mean":0.866,"lo":0.82,"hi":1.015},
{"res":249,"VLXT":0.84,"short":0.77,"long":0.887,"FIT":0.957,"Mean":0.9,"lo":0.87,"hi":1.015},
{"res":251,"VLXT":0.94,"VSL2":0.982,"VL3":0.98,"short":0.765,"long":0.892,"FIT":0.959,"Mean":0.919,"lo":0.92,"hi":1.015},
{"res":253,"VLXT":0.945,"short":0.77,"long":0.893,"FIT":0.959,"Mean":0.926,"lo":0.92,"hi":1.015},
{"res":255,"VLXT":0.92,"short":0.779,"long":0.895,"FIT":0.95,"Mean":0.918,"lo":0.92,"hi":1.015},
{"res":257,"VLXT":0.895,"short":0.785,"long":0.918,"FIT":0.903,"Mean":0.909,"lo":0.815,"hi":1.015},
{"res":259,"VLXT":0.872,"short":0.787,"long":0.939,"FIT":0.885,"Mean":0.913,"lo":0.785,"hi":1.005},
{"res":261,"VLXT":0.87,"VSL2":0.984,"VL3":0.983,"short":0.817,"long":0.948,"FIT":0.879,"Mean":0.918,"lo":0.755,"hi":1.005},
{"res":263,"VLXT":0.83,"short":0.822,"long":0.944,"FIT":0.869,"Mean":0.892,"lo":0.735,"hi":1.005},
{"res":265,"VLXT":0.68,"short":0.822,"long":0.948,"FIT":0.86,"Mean":0.87,"lo":0.725,"hi":1.005},
{"res":267,"VLXT":0.571,"short":0.835,"long":0.918,"FIT":0.852,"Mean":0.853,"lo":0.715,"hi":1.015},
{"res":269,"VLXT":0.5,"short":0.8,"long":0.919,"FIT":0.846,"Mean":0.84,"lo":0.7,"hi":1.015},
{"res":271,"VLXT":0.445,"VSL2":0.988,"VL3":0.995,"short":0.817,"long":0.918,"FIT":0.847,"Mean":0.835,"lo":0.7,"hi":1.015},
{"res":273,"VLXT":0.536,"short":0.827,"long":0.918,"FIT":0.856,"Mean":0.853,"lo":0.71,"hi":1.015},
{"res":275,"VLXT":0.74,"short":0.835,"long":0.922,"FIT":0.87,"Mean":0.883,"lo":0.745,"hi":1.015},
{"res":277,"VLXT":0.82,"short":0.861,"long":0.926,"FIT":0.906,"Mean":0.913,"lo":0.8,"hi":1.015},
{"res":279,"VLXT":0.905,"short":0.861,"long":0.913,"FIT":0.959,"Mean":0.935,"lo":0.9,"hi":1.015},
{"res":281,"VLXT":0.986,"VSL2":0.992,"VL3":1.005,"short":0.827,"long":0.905,"FIT":0.959,"Mean":0.941,"lo":0.92,"hi":1.015},
{"res":283,"VLXT":0.998,"short":0.822,"long":0.9,"FIT":0.955,"Mean":0.944,"lo":0.92,"hi":1.015},
{"res":285,"VLXT":0.998,"short":0.822,"long":0.9,"FIT":0.946,"Mean":0.941,"lo":0.915,"hi":1.015},
{"res":287,"VLXT":0.983,"short":0.8,"long":0.9,"FIT":0.944,"Mean":0.937,"lo":0.9,"hi":1.015},
{"res":289,"VLXT":0.974,"short":0.822,"long":0.944,"FIT":0.94,"Mean":0.941,"lo":0.88,"hi":1.015},
{"res":291,"VLXT":0.966,"VSL2":0.993,"VL3":1.007,"short":0.861,"long":0.948,"FIT":0.935,"Mean":0.946,"lo":0.87,"hi":1.015},
{"res":293,"VLXT":0.957,"short":0.87,"long":0.957,"FIT":0.931,"Mean":0.948,"lo":0.85,"hi":1.015},
{"res":295,"VLXT":0.935,"short":0.861,"long":0.957,"FIT":0.927,"Mean":0.941,"lo":0.84,"hi":1.015},
{"res":297,"VLXT":0.926,"short":0.848,"long":0.955,"FIT":0.9,"Mean":0.926,"lo":0.82,"hi":1.015},
{"res":299,"VLXT":0.926,"short":0.84,"long":0.957,"FIT":0.896,"Mean":0.913,"lo":0.79,"hi":1.01},
{"res":301,"VLXT":0.86,"VSL2":0.991,"VL3":1.002,"short":0.817,"long":0.948,"FIT":0.879,"Mean":0.887,"lo":0.76,"hi":1.01},
{"res":303,"VLXT":0.649,"short":0.809,"long":0.926,"FIT":0.865,"Mean":0.853,"lo":0.747,"hi":1.01},
{"res":305,"VLXT":0.406,"short":0.789,"long":0.918,"FIT":0.855,"Mean":0.827,"lo":0.71,"hi":1.01},
{"res":307,"VLXT":0.232,"short":0.8,"long":0.913,"FIT":0.844,"Mean":0.805,"lo":0.697,"hi":1.01},
{"res":309,"VLXT":0.133,"short":0.804,"long":0.928,"FIT":0.856,"Mean":0.791,"lo":0.695,"hi":1.01},
{"res":311,"VLXT":0.16,"VSL2":0.988,"VL3":0.994,"short":0.787,"long":0.918,"FIT":0.876,"Mean":0.796,"lo":0.7,"hi":0.99},
{"res":313,"VLXT":0.32,"short":0.77,"long":0.894,"FIT":0.89,"Mean":0.82,"lo":0.82,"hi":0.99},
{"res":315,"VLXT":0.48,"short":0.822,"long":0.88,"FIT":0.983,"Mean":0.848,"lo":0.885,"hi":1},
{"res":317,"VLXT":0.666,"short":0.862,"long":0.87,"FIT":0.994,"Mean":0.883,"lo":0.9,"hi":1},
{"res":319,"VLXT":0.76,"short":0.905,"long":0.863,"FIT":1,"Mean":0.915,"lo":0.9,"hi":1},
{"res":321,"VLXT":0.76,"VSL2":0.985,"VL3":0.985,"short":0.948,"long":0.852,"FIT":0.989,"Mean":0.933,"lo":0.9,"hi":1},
{"res":323,"VLXT":0.97,"VSL2":0.985,"VL3":0.983,"short":0.983,"long":0.844,"FIT":0.941,"Mean":0.915,"lo":0.89,"hi":1}
]
},
"resolve":{"legend":{"color":"independent","strokeDash":"independent"}},
"spacing":34,
"vconcat":[
{
"width":603,"height":557,
"data":{"name":"A"},
"layer":[
{"mark":{"type":"area","color":"#E9B3F5","opacity":1},
"encoding":{
"x":{"field":"res","type":"quantitative","scale":{"domain":[0,50],"nice":false,"zero":false},"axis":{"values":[0,10,20,30,40,50],"title":"Residue number"}},
"y":{"field":"lo","type":"quantitative","scale":{"domain":[0,1.05],"nice":false,"zero":false},"axis":{"values":[0,0.2,0.4,0.6,0.8,1],"format":".1f","title":"Disorder propensity"}},
"y2":{"field":"hi"}}},
{"mark":{"type":"circle","size":380,"color":"#E9B3F5","opacity":1},"encoding":{"x":{"field":"res","type":"quantitative"},"y":{"field":"hi","type":"quantitative"}}},
{"mark":{"type":"circle","size":380,"color":"#E9B3F5","opacity":1},"encoding":{"x":{"field":"res","type":"quantitative"},"y":{"field":"lo","type":"quantitative"}}},
{"mark":{"type":"rule","color":"black","strokeWidth":1.3},"encoding":{"y":{"datum":0.5}}},
{"transform":[{"fold":["VLXT","VSL2","VL3","short","long","FIT","Mean"],"as":["method","propensity"]},{"filter":"isValid(datum.propensity)"}],
"mark":{"type":"line","strokeWidth":5.8,"strokeCap":"round","strokeJoin":"round"},
"encoding":{
"x":{"field":"res","type":"quantitative"},
"y":{"field":"propensity","type":"quantitative"},
"color":{"field":"method","type":"nominal","legend":{"labelExpr":"datum.label == 'VLXT' ? 'PONDR VLXT' : datum.label == 'VSL2' ? 'PONDR VSL2' : datum.label == 'VL3' ? 'PONDR VL3' : datum.label == 'short' ? 'IUPred_short' : datum.label == 'long' ? 'IUPred_long' : datum.label == 'FIT' ? 'PONDR FIT' : 'Mean'"},"scale":{"domain":["VLXT","VSL2","VL3","short","long","FIT","Mean"],"range":["#000000","#D41E1E","#80F828","#FFFF1A","#1E14F0","#E114F0","#80F8FF"]}},
"strokeDash":{"field":"method","type":"nominal","legend":{"labelExpr":"datum.label == 'VLXT' ? 'PONDR VLXT' : datum.label == 'VSL2' ? 'PONDR VSL2' : datum.label == 'VL3' ? 'PONDR VL3' : datum.label == 'short' ? 'IUPred_short' : datum.label == 'long' ? 'IUPred_long' : datum.label == 'FIT' ? 'PONDR FIT' : 'Mean'"},"scale":{"domain":["VLXT","VSL2","VL3","short","long","FIT","Mean"],"range":[[1,0],[1,0],[1,0],[1,0],[1,0],[1,0],[16,13]]}}}},
{"mark":{"type":"text","text":"A","align":"left","baseline":"alphabetic","fontSize":26,"fontWeight":"bold","font":"Liberation Sans","color":"black"},"encoding":{"x":{"datum":-13.6},"y":{"datum":1.0085}}}
]
},
{
"spacing":19,
"resolve":{"legend":{"color":"independent","strokeDash":"independent"}},
"vconcat":[
{
"width":600,"height":557,
"data":{"name":"B"},
"layer":[
{"mark":{"type":"area","color":"#E9B3F5","opacity":1},
"encoding":{
"x":{"field":"res","type":"quantitative","scale":{"domain":[0,120],"nice":false,"zero":false},"axis":{"values":[0,20,40,60,80,100,120],"title":"Residue number"}},
"y":{"field":"lo","type":"quantitative","scale":{"domain":[0,1.05],"nice":false,"zero":false},"axis":{"values":[0,0.2,0.4,0.6,0.8,1],"format":".1f","title":"Disorder propensity"}},
"y2":{"field":"hi"}}},
{"mark":{"type":"circle","size":380,"color":"#E9B3F5","opacity":1},"encoding":{"x":{"field":"res","type":"quantitative"},"y":{"field":"hi","type":"quantitative"}}},
{"mark":{"type":"circle","size":380,"color":"#E9B3F5","opacity":1},"encoding":{"x":{"field":"res","type":"quantitative"},"y":{"field":"lo","type":"quantitative"}}},
{"mark":{"type":"rule","color":"black","strokeWidth":1.3},"encoding":{"y":{"datum":0.5}}},
{"transform":[{"fold":["VLXT","VSL2","VL3","short","long","FIT","Mean"],"as":["method","propensity"]},{"filter":"isValid(datum.propensity)"}],
"mark":{"type":"line","strokeWidth":5.8,"strokeCap":"round","strokeJoin":"round"},
"encoding":{
"x":{"field":"res","type":"quantitative"},
"y":{"field":"propensity","type":"quantitative"},
"color":{"field":"method","type":"nominal","legend":null,"scale":{"domain":["VLXT","VSL2","VL3","short","long","FIT","Mean"],"range":["#000000","#D41E1E","#80F828","#FFFF1A","#1E14F0","#E114F0","#80F8FF"]}},
"strokeDash":{"field":"method","type":"nominal","legend":null,"scale":{"domain":["VLXT","VSL2","VL3","short","long","FIT","Mean"],"range":[[1,0],[1,0],[1,0],[1,0],[1,0],[1,0],[16,13]]}}}},
{"mark":{"type":"text","text":"B","align":"left","baseline":"alphabetic","fontSize":26,"fontWeight":"bold","font":"Liberation Sans","color":"black"},"encoding":{"x":{"datum":-32.8},"y":{"datum":1.0085}}}
]
},
{
"width":602,"height":651,
"data":{"name":"C"},
"layer":[
{"mark":{"type":"area","color":"#E9B3F5","opacity":1},
"encoding":{
"x":{"field":"res","type":"quantitative","scale":{"domain":[0,325],"nice":false,"zero":false},"axis":{"values":[0,50,100,150,200,250,300],"title":"Residue number"}},
"y":{"field":"lo","type":"quantitative","scale":{"domain":[0,1.05],"nice":false,"zero":false},"axis":{"values":[0,0.2,0.4,0.6,0.8,1],"format":".1f","title":"Disorder propensity"}},
"y2":{"field":"hi"}}},
{"mark":{"type":"circle","size":380,"color":"#E9B3F5","opacity":1},"encoding":{"x":{"field":"res","type":"quantitative"},"y":{"field":"hi","type":"quantitative"}}},
{"mark":{"type":"circle","size":380,"color":"#E9B3F5","opacity":1},"encoding":{"x":{"field":"res","type":"quantitative"},"y":{"field":"lo","type":"quantitative"}}},
{"mark":{"type":"rule","color":"black","strokeWidth":1.3},"encoding":{"y":{"datum":0.5},"x":{"datum":0},"x2":{"datum":300}}},
{"transform":[{"fold":["VLXT","VSL2","VL3","short","long","FIT","Mean"],"as":["method","propensity"]},{"filter":"isValid(datum.propensity)"}],
"mark":{"type":"line","strokeWidth":5.8,"strokeCap":"round","strokeJoin":"round"},
"encoding":{
"x":{"field":"res","type":"quantitative"},
"y":{"field":"propensity","type":"quantitative"},
"color":{"field":"method","type":"nominal","legend":null,"scale":{"domain":["VLXT","VSL2","VL3","short","long","FIT","Mean"],"range":["#000000","#D41E1E","#80F828","#FFFF1A","#1E14F0","#E114F0","#80F8FF"]}},
"strokeDash":{"field":"method","type":"nominal","legend":null,"scale":{"domain":["VLXT","VSL2","VL3","short","long","FIT","Mean"],"range":[[1,0],[1,0],[1,0],[1,0],[1,0],[1,0],[16,13]]}}}},
{"mark":{"type":"text","text":"C","align":"left","baseline":"alphabetic","fontSize":26,"fontWeight":"bold","font":"Liberation Sans","color":"black"},"encoding":{"x":{"datum":-88.5},"y":{"datum":1.0247}}}
]
}
]
}
]
}
